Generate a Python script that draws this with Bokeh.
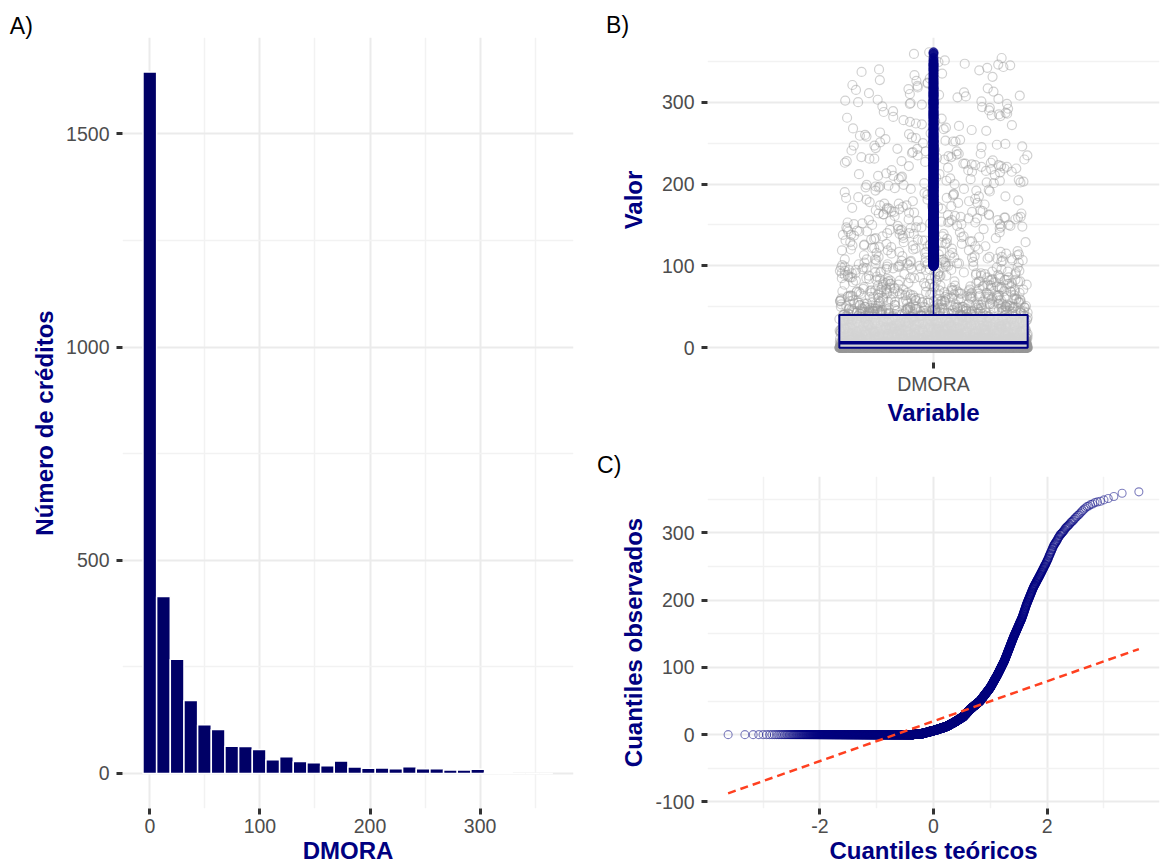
import numpy as np
from statistics import NormalDist
from bokeh.plotting import figure
from bokeh.layouts import row, column
from bokeh.models import FixedTicker, Range1d
from bokeh.embed import file_html
from bokeh.resources import INLINE

# ---------------- Panel A: histogram of DMORA (30 bins, first bin centred on 0)
hist_counts = [1645, 415, 268, 171, 114, 103, 64, 63, 56, 32, 39, 28, 25, 18, 29,
               15, 12, 13, 11, 16, 11, 11, 8, 8, 10, 2, 3, 0, 0, 0]
hist_bin_width = 12.41
hist_x_ticks = [0, 100, 200, 300]
hist_x_minor = [50, 150, 250, 350]
hist_x_labels = ["0", "100", "200", "300"]
hist_y_ticks = [0, 500, 1000, 1500]
hist_y_minor = [250, 750, 1250]
hist_y_labels = ["0", "500", "1000", "1500"]

# ---------------- Panels B and C: DMORA quantile curve
n_obs = 3350
qq_theoretical = [-3.62, -0.42, -0.20, 0.00, 0.10, 0.24, 0.37, 0.53, 0.65, 0.82,
                  1.00, 1.12, 1.25, 1.41, 1.56, 1.64, 1.76, 1.88, 2.00, 2.11,
                  2.23, 2.35, 2.52, 2.70, 2.82, 3.05, 3.18, 3.33, 3.62]
qq_observed = [0, 0, 1.5, 6.0, 8.5, 12.5, 18.5, 27, 38, 50,
               70, 88, 110, 145, 174, 194, 219, 238, 258, 280,
               297, 309, 324, 339, 344, 350, 354, 359, 361]

# boxplot statistics
box_q1 = 0
box_median = 6
box_q3 = 40
box_whisker_hi = 99
box_category = ["DMORA"]

box_y_ticks = [0, 100, 200, 300]
box_y_minor = [50, 150, 250, 350]
box_y_labels = ["0", "100", "200", "300"]

qq_x_ticks = [-2, 0, 2]
qq_x_minor = [-3, -1, 1, 3]
qq_x_labels = ["-2", "0", "2"]
qq_y_ticks = [-100, 0, 100, 200, 300]
qq_y_minor = [-50, 50, 150, 250, 350]
qq_y_labels = ["-100", "0", "100", "200", "300"]

# ---------------- derived sample
nd = NormalDist()
probs = (np.arange(1, n_obs + 1) - 0.5) / n_obs
z_theo = np.array([nd.inv_cdf(v) for v in probs])
dmora = np.round(np.interp(z_theo, qq_theoretical, qq_observed))

# deterministic hash-based horizontal jitter, total width 0.5 (+-0.25)
idx = np.arange(1, n_obs + 1)
hash01 = np.modf(np.abs(np.sin(idx * 12.9898) * 43758.5453))[0]
jitter = (hash01 - 0.5) * 0.5

FONT = "Liberation Sans"
NAVY = "#000080"


def style(p, xt, xm, xl, yt, ym, yl):
    p.outline_line_color = None
    p.background_fill_color = "white"
    p.border_fill_color = "white"
    xtick = FixedTicker(ticks=xt, minor_ticks=xm)
    ytick = FixedTicker(ticks=yt, minor_ticks=ym)
    p.xaxis.ticker = xtick
    p.yaxis.ticker = ytick
    p.xgrid.ticker = xtick
    p.ygrid.ticker = ytick
    p.xaxis.major_label_overrides = {t: s for t, s in zip(xt, xl)}
    p.yaxis.major_label_overrides = {t: s for t, s in zip(yt, yl)}
    for ax in p.axis:
        ax.axis_line_color = None
        ax.major_tick_line_color = "#333333"
        ax.major_tick_line_width = 3
        ax.major_tick_out = 6
        ax.major_tick_in = 0
        ax.minor_tick_line_color = None
        ax.major_label_text_font = FONT
        ax.major_label_text_font_size = "19.5px"
        ax.major_label_text_color = "#4D4D4D"
        ax.axis_label_text_font = FONT
        ax.axis_label_text_font_size = "24px"
        ax.axis_label_text_font_style = "bold"
        ax.axis_label_text_color = NAVY
    p.xaxis.major_label_standoff = 4
    p.xaxis.axis_label_standoff = 1
    p.yaxis.major_label_standoff = 7
    p.yaxis.axis_label_standoff = 5
    for g in (p.xgrid, p.ygrid):
        g.grid_line_color = "#EBEBEB"
        g.grid_line_width = 2
        g.minor_grid_line_color = "#F2F2F2"
        g.minor_grid_line_width = 1.5


def panel_label(p, text, offset, standoff):
    p.title.text = text
    p.title.align = "left"
    p.title.offset = offset
    p.title.standoff = standoff
    p.title.text_font = FONT
    p.title.text_font_size = "23px"
    p.title.text_font_style = "normal"
    p.title.text_color = "black"


# ---------------- Panel A
pA = figure(width=580, height=866, x_range=Range1d(-24.8, 384.8),
            y_range=Range1d(-82.2, 1726.2), output_backend="svg",
            toolbar_location=None, min_border_left=122, min_border_right=7,
            min_border_top=37, min_border_bottom=57)
centers = np.arange(len(hist_counts)) * hist_bin_width
pA.quad(left=centers - hist_bin_width / 2, right=centers + hist_bin_width / 2,
        top=hist_counts, bottom=0, fill_color="#000066", line_color="white",
        line_width=1.5)
style(pA, hist_x_ticks, hist_x_minor, hist_x_labels, hist_y_ticks, hist_y_minor, hist_y_labels)
pA.xaxis.axis_label = "DMORA"
pA.yaxis.axis_label = "Número de créditos"
panel_label(pA, "A)", -112.7, -2)

# ---------------- Panel B
pB = figure(width=580, height=428, x_range=Range1d(0.4, 1.6),
            y_range=Range1d(-18.05, 379.05), output_backend="svg",
            toolbar_location=None, min_border_left=118, min_border_right=0,
            min_border_top=37, min_border_bottom=60)
pB.scatter(x=1 + jitter, y=dmora, marker="circle", size=9, fill_color=None,
           line_color="#9A9A9A", line_alpha=0.45, line_width=1.2)
pB.quad(left=[0.75], right=[1.25], bottom=[box_q1], top=[box_q3],
        fill_color="#D9D9D9", fill_alpha=0.9, line_color=NAVY, line_width=2)
pB.segment(x0=[0.75], x1=[1.25], y0=[box_median], y1=[box_median],
           line_color=NAVY, line_width=3.5)
pB.segment(x0=[1], x1=[1], y0=[box_q3], y1=[box_whisker_hi],
           line_color=NAVY, line_width=1.5)
outliers = dmora[dmora > box_whisker_hi]
pB.scatter(x=np.ones(len(outliers)), y=outliers, marker="circle", size=9,
           fill_color=NAVY, line_color=NAVY, fill_alpha=0.75, line_alpha=0.75)
style(pB, [1], [], box_category, box_y_ticks, box_y_minor, box_y_labels)
pB.yaxis.axis_label_standoff = 12
pB.xaxis.axis_label = "Variable"
pB.yaxis.axis_label = "Valor"
panel_label(pB, "B)", -101.4, -1)

# ---------------- Panel C
pC = figure(width=580, height=438, x_range=Range1d(-3.98, 3.98),
            y_range=Range1d(-109.8, 383.8), output_backend="svg",
            toolbar_location=None, min_border_left=127, min_border_right=1,
            min_border_top=48, min_border_bottom=57)
pC.scatter(x=z_theo, y=dmora, marker="circle", size=8, fill_color=None,
           line_color=NAVY, line_alpha=0.5, line_width=1.1)
z25, z75 = nd.inv_cdf(0.25), nd.inv_cdf(0.75)
slope = (box_q3 - box_q1) / (z75 - z25)
intercept = box_q1 - slope * z25
zl = np.array([z_theo.min(), z_theo.max()])
pC.line(x=zl, y=intercept + slope * zl, line_color="#FF4020", line_width=2.5,
        line_dash="8 5")
style(pC, qq_x_ticks, qq_x_minor, qq_x_labels, qq_y_ticks, qq_y_minor, qq_y_labels)
pC.xaxis.axis_label = "Cuantiles teóricos"
pC.yaxis.axis_label = "Cuantiles observados"
panel_label(pC, "C)", -110.4, -2)

layout = row(pA, column(pB, pC))
open("out.html", "w").write(file_html(layout, INLINE))
